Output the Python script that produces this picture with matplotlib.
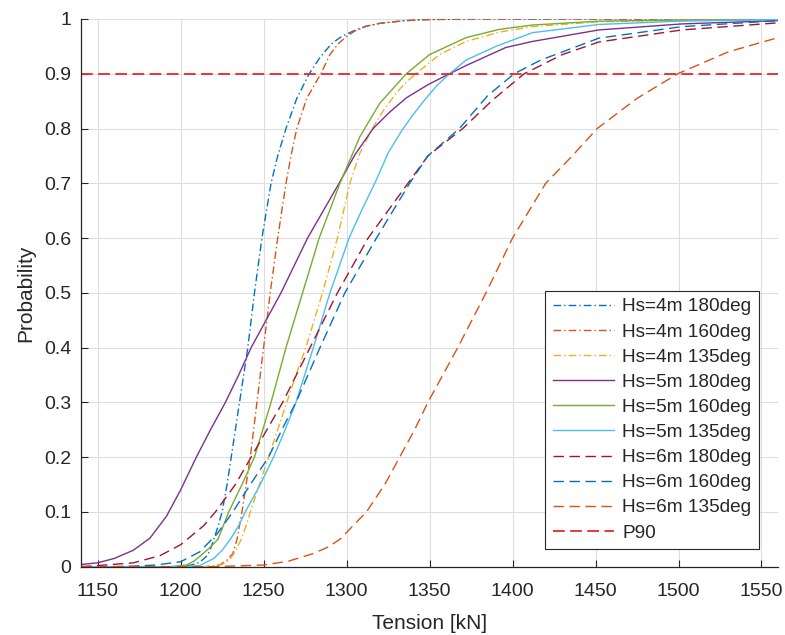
import matplotlib
matplotlib.use("Agg")
import matplotlib.pyplot as plt
from matplotlib.ticker import FuncFormatter

plt.rcParams['font.family'] = ['Liberation Sans', 'DejaVu Sans']

# Empirical tension CDFs per sea state (tension in kN, cumulative probability)
t_hs4_180 = [1140, 1195, 1205, 1210, 1213, 1216, 1218, 1220, 1222.5, 1225, 1228, 1230.5, 1233,
             1235.5, 1238, 1240.5, 1244.5, 1249, 1254.5, 1258.5, 1263.5, 1270, 1277.5, 1284,
             1291, 1297, 1304, 1312, 1320, 1335, 1350, 1380, 1560]
p_hs4_180 = [0, 0, 0.002, 0.006, 0.012, 0.02, 0.032, 0.05, 0.073, 0.1, 0.15, 0.2, 0.25,
             0.3, 0.35, 0.4, 0.5, 0.6, 0.7, 0.75, 0.8, 0.855, 0.9, 0.93,
             0.955, 0.968, 0.978, 0.987, 0.992, 0.997, 0.999, 1.0, 1.0]

t_hs4_160 = [1140, 1215, 1223.5, 1228, 1231.5, 1234, 1237, 1239.5, 1242, 1246, 1250, 1254,
             1258.5, 1263.5, 1266.5, 1270, 1276, 1284.5, 1290, 1295, 1300, 1305, 1312, 1320,
             1335, 1350, 1380, 1560]
p_hs4_160 = [0, 0, 0.003, 0.012, 0.024, 0.05, 0.1, 0.15, 0.2, 0.3, 0.4, 0.5,
             0.6, 0.7, 0.75, 0.8, 0.855, 0.9, 0.935, 0.955, 0.968, 0.978, 0.987, 0.992,
             0.997, 0.999, 1.0, 1.0]

t_hs4_135 = [1140, 1215, 1225, 1229.5, 1233, 1236.5, 1239.5, 1242, 1247.5, 1253, 1258.5, 1264,
             1269.5, 1275.5, 1285.5, 1294.5, 1302, 1308, 1315.5, 1322, 1330, 1336, 1343, 1356,
             1372, 1392, 1412, 1452, 1500, 1560]
p_hs4_135 = [0, 0, 0.004, 0.012, 0.028, 0.05, 0.075, 0.1, 0.15, 0.2, 0.25, 0.3,
             0.35, 0.4, 0.5, 0.6, 0.7, 0.755, 0.8, 0.832, 0.865, 0.885, 0.903, 0.935,
             0.959, 0.976, 0.986, 0.995, 0.998, 0.999]

t_hs5_180 = [1140, 1150, 1160, 1171.5, 1181.5, 1191.5, 1200, 1209.5, 1218, 1227, 1235,
             1242.5, 1251.5, 1260.5, 1268.5, 1276.5, 1286, 1295.5, 1305, 1316, 1326, 1336,
             1349, 1362, 1372, 1396, 1412, 1452, 1502, 1560]
p_hs5_180 = [0.004, 0.007, 0.015, 0.03, 0.052, 0.092, 0.14, 0.2, 0.25, 0.3, 0.35,
             0.4, 0.45, 0.5, 0.55, 0.6, 0.65, 0.7, 0.752, 0.8, 0.83, 0.856,
             0.88, 0.9, 0.915, 0.948, 0.959, 0.98, 0.991, 0.997]

t_hs5_160 = [1140, 1195, 1203.5, 1208, 1212, 1217, 1222.5, 1229, 1237, 1244.5, 1249.5, 1254.5,
             1263.5, 1273.5, 1283.5, 1296, 1308, 1320, 1336, 1350, 1372, 1392, 1412, 1452,
             1500, 1560]
p_hs5_160 = [0, 0, 0.003, 0.01, 0.02, 0.033, 0.05, 0.1, 0.15, 0.2, 0.25, 0.3,
             0.4, 0.5, 0.6, 0.7, 0.785, 0.846, 0.9, 0.935, 0.966, 0.981, 0.989, 0.996,
             0.998, 0.999]

t_hs5_135 = [1140, 1200, 1211.5, 1220, 1225, 1230, 1235, 1239, 1248, 1256, 1263, 1269.5,
             1280, 1290, 1301.5, 1309, 1317, 1325, 1333, 1340, 1347, 1354, 1362, 1372, 1390,
             1412, 1452, 1500, 1560]
p_hs5_135 = [0, 0, 0.002, 0.015, 0.03, 0.05, 0.075, 0.1, 0.15, 0.2, 0.25, 0.3,
             0.4, 0.5, 0.6, 0.65, 0.7, 0.755, 0.795, 0.825, 0.852, 0.877, 0.9, 0.925, 0.95,
             0.975, 0.99, 0.996, 0.999]

t_hs6_180 = [1140, 1150, 1171.5, 1187.5, 1200, 1206, 1214, 1221, 1233, 1242.5, 1252, 1261.5,
             1278, 1294.5, 1313, 1337, 1349, 1370, 1388, 1407, 1430, 1452, 1502, 1560]
p_hs6_180 = [0.0, 0.002, 0.007, 0.02, 0.04, 0.055, 0.075, 0.1, 0.15, 0.2, 0.25, 0.3,
             0.4, 0.5, 0.6, 0.7, 0.75, 0.8, 0.852, 0.9, 0.935, 0.958, 0.98, 0.993]

t_hs6_160 = [1140, 1160, 1171.5, 1185, 1200, 1211.5, 1222, 1231.5, 1242, 1253, 1261, 1269.5,
             1284, 1299, 1318, 1338, 1349, 1368, 1385, 1401, 1417, 1452, 1502, 1560]
p_hs6_160 = [0, 0, 0.001, 0.003, 0.009, 0.027, 0.06, 0.1, 0.15, 0.2, 0.25, 0.3,
             0.4, 0.5, 0.6, 0.7, 0.75, 0.8, 0.86, 0.9, 0.925, 0.965, 0.986, 0.997]

t_hs6_135 = [1140, 1220, 1250, 1265, 1280, 1289, 1296, 1304, 1312, 1323, 1332, 1341,
             1349, 1358, 1367, 1384, 1400, 1420, 1436, 1451, 1475, 1499.5, 1530, 1560]
p_hs6_135 = [0, 0, 0.003, 0.01, 0.024, 0.036, 0.05, 0.075, 0.1, 0.15, 0.2, 0.25,
             0.3, 0.35, 0.4, 0.5, 0.6, 0.7, 0.75, 0.8, 0.855, 0.9, 0.94, 0.966]

p90_level = 0.9

labels = ["Hs=4m 180deg", "Hs=4m 160deg", "Hs=4m 135deg",
          "Hs=5m 180deg", "Hs=5m 160deg", "Hs=5m 135deg",
          "Hs=6m 180deg", "Hs=6m 160deg", "Hs=6m 135deg", "P90"]

x_ticks = [1150, 1200, 1250, 1300, 1350, 1400, 1450, 1500, 1550]
y_ticks = [0, 0.1, 0.2, 0.3, 0.4, 0.5, 0.6, 0.7, 0.8, 0.9, 1.0]

colors = ["#0072BD", "#D95319", "#EDB120", "#7E2F8E", "#77AC30",
          "#4DBEEE", "#A2142F", "#0072BD", "#D95319"]
dashdot = (0, (5.5, 2.2, 1.0, 2.2))
dashed = (0, (7.5, 4.0))
styles = [dashdot, dashdot, dashdot, "-", "-", "-", dashed, dashed, dashed]

series = [(t_hs4_180, p_hs4_180), (t_hs4_160, p_hs4_160), (t_hs4_135, p_hs4_135),
          (t_hs5_180, p_hs5_180), (t_hs5_160, p_hs5_160), (t_hs5_135, p_hs5_135),
          (t_hs6_180, p_hs6_180), (t_hs6_160, p_hs6_160), (t_hs6_135, p_hs6_135)]

fig = plt.figure(figsize=(7.85, 6.35), dpi=100)
ax = fig.add_axes([0.1032, 0.1076, 0.8880, 0.8625])

for (t, p), c, ls, lab in zip(series, colors, styles, labels):
    ax.plot(t, p, color=c, linestyle=ls, linewidth=1.0, label=lab)

ax.axhline(p90_level, color="#E8262A", linestyle=(0, (6.5, 3.0)), linewidth=1.3, label=labels[-1])

ax.set_xlim(1140, 1560)
ax.set_ylim(0, 1)
ax.set_xticks(x_ticks)
ax.set_yticks(y_ticks)
ax.yaxis.set_major_formatter(FuncFormatter(lambda v, pos: f"{v:g}"))

ax.grid(True, color="#dedede", linewidth=0.8)
ax.set_axisbelow(True)
for side in ("top", "right"):
    ax.spines[side].set_visible(False)
for side in ("left", "bottom"):
    ax.spines[side].set_color("#262626")
    ax.spines[side].set_linewidth(0.9)

ax.tick_params(direction="in", length=5, width=0.8, colors="#262626",
               labelsize=14, labelcolor="#262626")
ax.tick_params(axis="x", pad=12)
ax.tick_params(axis="y", pad=7)

ax.set_xlabel("Tension [kN]", fontsize=15, color="#262626", labelpad=10)
ax.set_ylabel("Probability", fontsize=15, color="#262626", labelpad=6)

leg = ax.legend(loc="lower right", bbox_to_anchor=(0.973, 0.032), borderaxespad=0,
                fontsize=13.7, fancybox=False, framealpha=1, edgecolor="#262626",
                handlelength=3.2, handletextpad=0.45, labelspacing=0.41, borderpad=0.4)
leg.get_frame().set_linewidth(0.8)
for txt in leg.get_texts():
    txt.set_color("#262626")

fig.savefig("out.png", dpi=100)
